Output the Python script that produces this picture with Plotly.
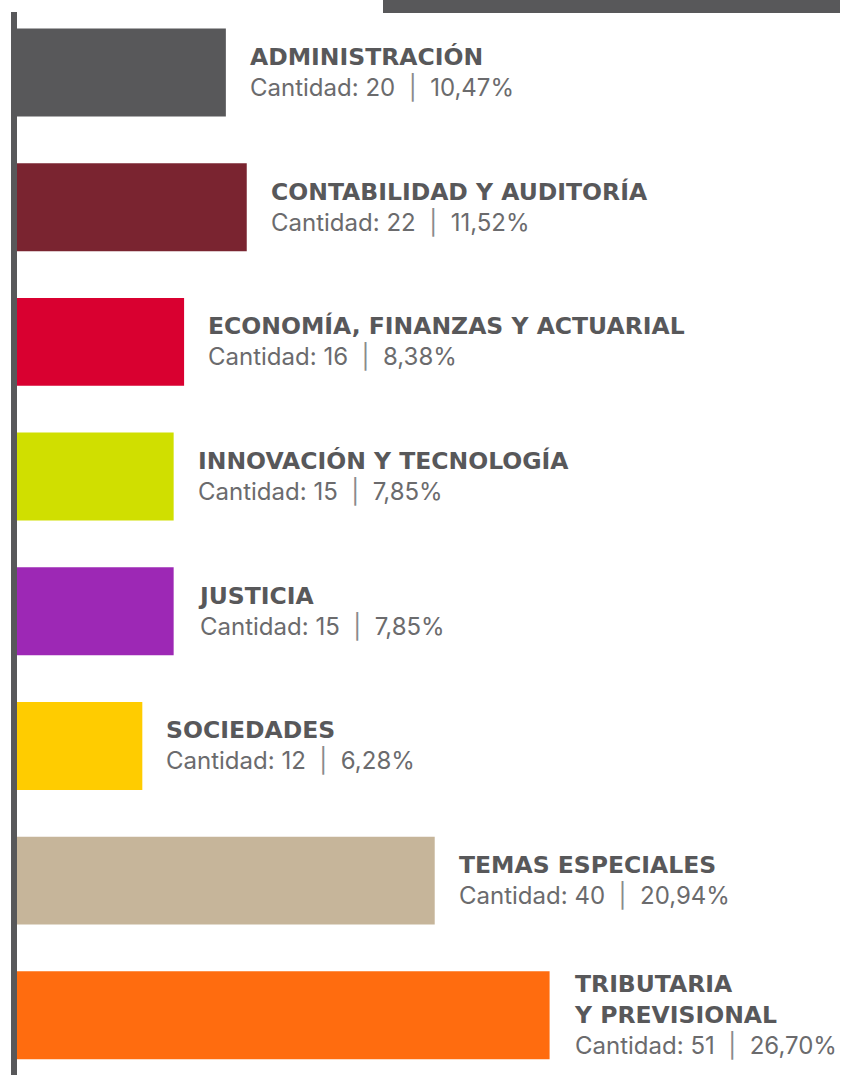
import plotly.graph_objects as go

# Courses per subject area
areas = [
    "ADMINISTRACIÓN",
    "CONTABILIDAD Y AUDITORÍA",
    "ECONOMÍA, FINANZAS Y ACTUARIAL",
    "INNOVACIÓN Y TECNOLOGÍA",
    "JUSTICIA",
    "SOCIEDADES",
    "TEMAS ESPECIALES",
    "TRIBUTARIA Y PREVISIONAL",
]
area_titles = [
    "ADMINISTRACIÓN",
    "CONTABILIDAD Y AUDITORÍA",
    "ECONOMÍA, FINANZAS Y ACTUARIAL",
    "INNOVACIÓN Y TECNOLOGÍA",
    "JUSTICIA",
    "SOCIEDADES",
    "TEMAS ESPECIALES",
    "TRIBUTARIA<br>Y PREVISIONAL",
]
counts = [20, 22, 16, 15, 15, 12, 40, 51]
colors = ["#58585a", "#7a2430", "#d90030", "#d0df00",
          "#9d28b5", "#ffcc00", "#c6b59a", "#ff6c0f"]

total = sum(counts)
shares = [f"{c / total * 100:.2f}".replace(".", ",") + "%" for c in counts]

W, H = 842, 1075
PLOT_W = W - 17
FONT = "Inter"
DARK = "#58585a"

fig = go.Figure(
    go.Bar(
        x=counts,
        y=areas,
        orientation="h",
        marker=dict(color=colors, line=dict(width=0)),
        width=0.653,
        hoverinfo="skip",
    )
)

for area, title, c, s in zip(areas, area_titles, counts, shares):
    fig.add_annotation(
        x=c, y=area, xref="x", yref="y",
        xanchor="left", yanchor="middle", align="left",
        xshift=22, showarrow=False,
        text=(f"<span style='font-family:\"DejaVu Sans\";font-size:23.5px;font-weight:bold'>{title}</span><br>"
              f"<span style='color:#6b6b6d'>Cantidad: {c}  <span style='color:#8a8a8c'>|</span>  {s}</span>"),
        font=dict(family=FONT, size=24, color=DARK),
    )

# vertical baseline at the left of the bars
fig.add_shape(
    type="rect", xref="paper", yref="paper",
    x0=-6 / PLOT_W, x1=0,
    y0=-0.01, y1=1 - 12 / H,
    fillcolor=DARK, line=dict(width=0), layer="above",
)
# header band along the top edge
fig.add_shape(
    type="rect", xref="paper", yref="paper",
    x0=(383 - 17) / PLOT_W, x1=(840 - 17) / PLOT_W,
    y0=1 - 13 / H, y1=1.02,
    fillcolor=DARK, line=dict(width=0), layer="above",
)

fig.update_layout(
    width=W, height=H,
    margin=dict(l=17, r=0, t=0, b=0),
    paper_bgcolor="white", plot_bgcolor="white",
    showlegend=False,
    xaxis=dict(range=[0, 79], visible=False, fixedrange=True),
    yaxis=dict(
        categoryorder="array", categoryarray=areas,
        range=[7.443, -0.538], visible=False, fixedrange=True,
    ),
)

fig.write_html("out.html")
